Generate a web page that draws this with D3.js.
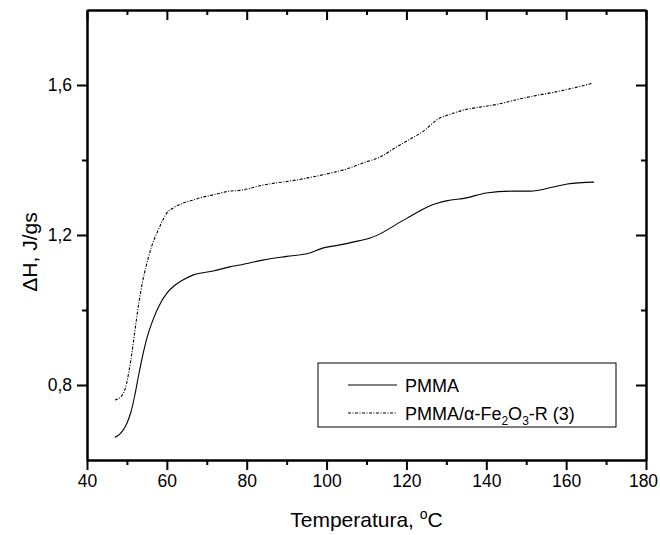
<!DOCTYPE html>
<html>
<head>
<meta charset="utf-8">
<script src="https://cdn.jsdelivr.net/npm/d3@7"></script>
<style>
  body { margin: 0; background: #fff; }
  text { font-family: Arial, "Liberation Sans", sans-serif; fill: #000; }
</style>
</head>
<body>
<svg id="chart"></svg>
<script>
// data (temperature, °C / enthalpy, J/gs)
const pmmaT = [47, 48, 49, 50, 51, 52, 53, 54, 55, 56.5, 58, 60, 62, 64, 66.5, 68.3, 71.6, 75.8, 78.3,
  84, 90, 95.8, 99, 103, 106.6, 110.9, 113.4, 116, 118.5, 121, 124, 126.4, 130, 135, 140, 146.7,
  151, 156.8, 160.3, 167];
const pmmaH = [0.661, 0.667, 0.679, 0.698, 0.728, 0.774, 0.830, 0.881, 0.925, 0.973, 1.010, 1.045, 1.066,
  1.080, 1.093, 1.098, 1.104, 1.115, 1.120, 1.133, 1.143, 1.152, 1.165, 1.173, 1.181, 1.192, 1.203,
  1.219, 1.235, 1.250, 1.268, 1.280, 1.291, 1.299, 1.312, 1.317, 1.317, 1.328, 1.336, 1.341];

const compT = [47, 47.8, 48.6, 49.3, 49.9, 50.5, 51.2, 52, 53, 54, 55, 56.2, 57.5, 59, 60, 61.6, 64, 66.5,
  68.3, 71.6, 75.8, 78.3, 84, 92.6, 100.9, 105, 109.1, 113.4, 117.1, 120, 124, 128.4, 131, 134.2,
  138.4, 143, 148.4, 153, 158.5, 163, 166.7];
const compH = [0.760, 0.763, 0.770, 0.782, 0.803, 0.836, 0.882, 0.945, 1.020, 1.080, 1.125, 1.170, 1.205,
  1.240, 1.259, 1.272, 1.285, 1.293, 1.299, 1.307, 1.317, 1.319, 1.333, 1.347, 1.365, 1.376, 1.392,
  1.408, 1.432, 1.450, 1.475, 1.512, 1.522, 1.533, 1.541, 1.549, 1.563, 1.573, 1.584, 1.595, 1.605];

const xMajor = [40, 60, 80, 100, 120, 140, 160, 180];
const xMinor = [50, 70, 90, 110, 130, 150, 170];
const yMajor = [0.8, 1.2, 1.6];
const yMinor = [1.0, 1.4];

const seriesNames = ["PMMA", "PMMA/α-Fe2O3-R (3)"];

// set the dimensions and margins
const margin = { top: 10, right: 14, bottom: 75, left: 87 },
  width = 660 - margin.left - margin.right,
  height = 535 - margin.top - margin.bottom;

const svg = d3.select("#chart")
  .attr("width", 660)
  .attr("height", 535);

const g = svg.append("g")
  .attr("transform", "translate(" + margin.left + "," + margin.top + ")");

const x = d3.scaleLinear().domain([40, 180]).range([0, width]);
const y = d3.scaleLinear().domain([0.6, 1.8]).range([height, 0]);

const fmt = d => d3.format(".1f")(d).replace(".", ",");

function styleAxis(sel) {
  sel.select(".domain").attr("stroke-width", 2);
  sel.selectAll(".tick line").attr("stroke-width", 2);
  sel.selectAll("text").style("font-size", "17.5px")
    .style("font-family", "Arial, 'Liberation Sans', sans-serif");
}

// bottom axis
g.append("g")
  .attr("transform", "translate(0," + height + ")")
  .call(d3.axisBottom(x).tickValues(xMajor).tickSize(10).tickSizeOuter(0).tickPadding(5))
  .call(styleAxis)
  .selectAll(".tick text")
  .filter(d => d === 180)
  .attr("dx", -3);
g.append("g")
  .attr("transform", "translate(0," + height + ")")
  .call(d3.axisBottom(x).tickValues(xMinor).tickSize(5).tickSizeOuter(0).tickFormat(""))
  .call(styleAxis);

// top axis (ticks inward)
g.append("g")
  .call(d3.axisTop(x).tickValues(xMajor).tickSize(-10).tickSizeOuter(0).tickFormat(""))
  .call(styleAxis);
g.append("g")
  .call(d3.axisTop(x).tickValues(xMinor).tickSize(-5).tickSizeOuter(0).tickFormat(""))
  .call(styleAxis);

// left axis
g.append("g")
  .call(d3.axisLeft(y).tickValues(yMajor).tickSize(10).tickSizeOuter(0).tickPadding(5).tickFormat(fmt))
  .call(styleAxis);
g.append("g")
  .call(d3.axisLeft(y).tickValues(yMinor).tickSize(5).tickSizeOuter(0).tickFormat(""))
  .call(styleAxis);

// right axis (ticks inward)
g.append("g")
  .attr("transform", "translate(" + width + ",0)")
  .call(d3.axisRight(y).tickValues(yMajor).tickSize(-10).tickSizeOuter(0).tickFormat(""))
  .call(styleAxis);
g.append("g")
  .attr("transform", "translate(" + width + ",0)")
  .call(d3.axisRight(y).tickValues(yMinor).tickSize(-5).tickSizeOuter(0).tickFormat(""))
  .call(styleAxis);

// curves
const line = d3.line()
  .x(d => x(d[0]))
  .y(d => y(d[1]))
  .curve(d3.curveMonotoneX);

const dashPattern = "3,1.5,1,1.5";

g.append("path")
  .datum(d3.zip(pmmaT, pmmaH))
  .attr("fill", "none")
  .attr("stroke", "#000")
  .attr("stroke-width", 1.1)
  .attr("d", line);

g.append("path")
  .datum(d3.zip(compT, compH))
  .attr("fill", "none")
  .attr("stroke", "#000")
  .attr("stroke-width", 1.1)
  .attr("stroke-dasharray", dashPattern)
  .attr("d", line);

// axis titles
const xTitle = svg.append("text")
  .attr("x", margin.left + width / 2)
  .attr("y", 527)
  .attr("text-anchor", "middle")
  .style("font-size", "21px");
xTitle.append("tspan").text("Temperatura, ");
xTitle.append("tspan").attr("dy", -8).style("font-size", "14px").text("o");
xTitle.append("tspan").attr("dy", 8).text("C");

svg.append("text")
  .attr("transform", "translate(37,252) rotate(-90)")
  .attr("text-anchor", "middle")
  .style("font-size", "21px")
  .text("ΔH, J/gs");

// legend
const legend = svg.append("g");
legend.append("rect")
  .attr("x", 318).attr("y", 363)
  .attr("width", 298).attr("height", 64)
  .attr("fill", "#fff")
  .attr("stroke", "#000")
  .attr("stroke-width", 1);

legend.append("line")
  .attr("x1", 348).attr("x2", 397).attr("y1", 385).attr("y2", 385)
  .attr("stroke", "#000").attr("stroke-width", 1.1);
legend.append("line")
  .attr("x1", 348).attr("x2", 397).attr("y1", 413).attr("y2", 413)
  .attr("stroke", "#000").attr("stroke-width", 1.1)
  .attr("stroke-dasharray", dashPattern);

legend.append("text")
  .attr("x", 405).attr("y", 391.5)
  .style("font-size", "18px")
  .text(seriesNames[0]);

const t2 = legend.append("text")
  .attr("x", 405).attr("y", 419.5)
  .style("font-size", "18px");
t2.append("tspan").text("PMMA/α-Fe");
t2.append("tspan").attr("dy", 5).style("font-size", "12px").text("2");
t2.append("tspan").attr("dy", -5).text("O");
t2.append("tspan").attr("dy", 5).style("font-size", "12px").text("3");
t2.append("tspan").attr("dy", -5).text("-R (3)");
</script>
</body>
</html>
